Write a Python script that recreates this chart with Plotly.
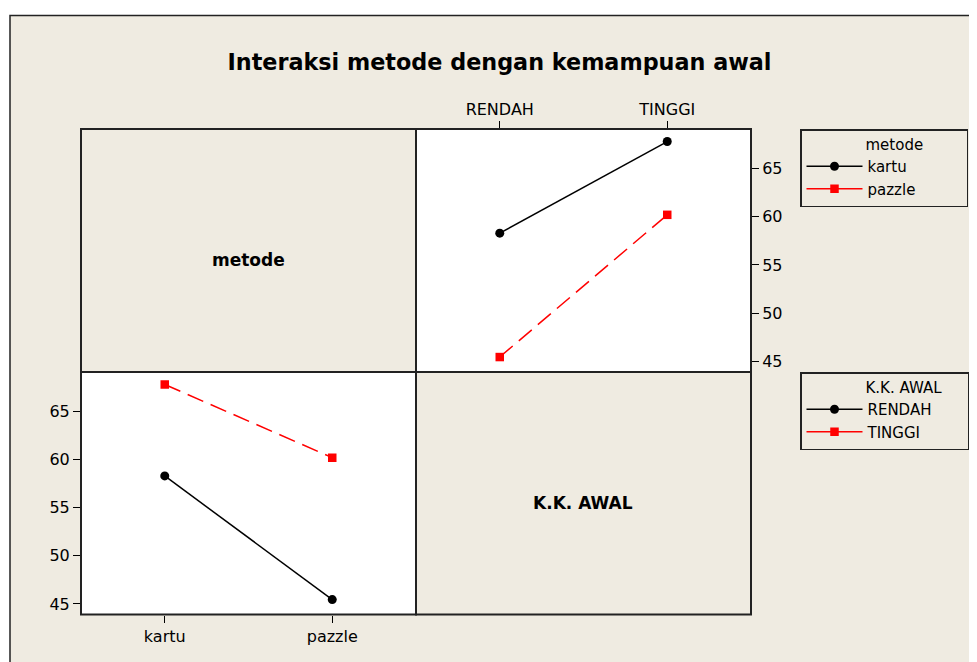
import plotly.graph_objects as go

# ---- data (cell means) ----
metode = ["kartu", "pazzle"]
kk_awal = ["RENDAH", "TINGGI"]
# means[metode][kk_awal]
kartu_vals = [58.3, 67.8]    # kartu at RENDAH, TINGGI
pazzle_vals = [45.45, 60.2]  # pazzle at RENDAH, TINGGI
y_ticks = [45, 50, 55, 60, 65]

W, H = 977, 662
OFF = 8  # page body margin offset
BEIGE = "#EFEBE1"
FONT = "DejaVu Sans"

def X(px):
    return (px - OFF) / W

def Y(py):
    return 1 - (py - OFF) / H

L, M, R = 81, 416, 751
T, C, B = 129, 372, 614.5

fig = go.Figure()

# Top-right: x = K.K. AWAL, lines by metode
fig.add_trace(go.Scatter(x=kk_awal, y=kartu_vals, xaxis="x2", yaxis="y2",
                         mode="lines+markers", showlegend=False,
                         line=dict(color="black", width=1.5),
                         marker=dict(symbol="circle", size=9, color="black")))
fig.add_trace(go.Scatter(x=kk_awal, y=pazzle_vals, xaxis="x2", yaxis="y2",
                         mode="lines+markers", showlegend=False,
                         line=dict(color="#FF0000", width=1.5, dash="17px,8px"),
                         marker=dict(symbol="square", size=8.5, color="#FF0000")))

# Bottom-left: x = metode, lines by K.K. AWAL
rendah_vals = [kartu_vals[0], pazzle_vals[0]]
tinggi_vals = [kartu_vals[1], pazzle_vals[1]]
fig.add_trace(go.Scatter(x=metode, y=rendah_vals, xaxis="x3", yaxis="y3",
                         mode="lines+markers", showlegend=False,
                         line=dict(color="black", width=1.5),
                         marker=dict(symbol="circle", size=9, color="black")))
fig.add_trace(go.Scatter(x=metode, y=tinggi_vals, xaxis="x3", yaxis="y3",
                         mode="lines+markers", showlegend=False,
                         line=dict(color="#FF0000", width=1.5, dash="17px,8px"),
                         marker=dict(symbol="square", size=8.5, color="#FF0000")))

# legend entries
for name, col, sym, sz, lg in [("kartu", "black", "circle", 9, "legend"),
                               ("pazzle", "#FF0000", "square", 8.5, "legend"),
                               ("RENDAH", "black", "circle", 9, "legend2"),
                               ("TINGGI", "#FF0000", "square", 8.5, "legend2")]:
    fig.add_trace(go.Scatter(x=[None], y=[None], xaxis="x2", yaxis="y2",
                             mode="lines+markers", name=name, legend=lg,
                             line=dict(color=col, width=1.5),
                             marker=dict(symbol=sym, size=sz, color=col)))

tickfont = dict(family=FONT, size=16, color="black")
yrange = [43.9, 69.1]

shapes = [
    # beige frame
    dict(type="rect", xref="paper", yref="paper", x0=X(10), x1=X(1000),
         y0=Y(700), y1=Y(15.5), fillcolor=BEIGE,
         line=dict(color="#222", width=1.5), layer="below"),
    # white data panels
    dict(type="rect", xref="paper", yref="paper", x0=X(M), x1=X(R), y0=Y(C), y1=Y(T),
         fillcolor="white", line=dict(width=0), layer="below"),
    dict(type="rect", xref="paper", yref="paper", x0=X(L), x1=X(M), y0=Y(B), y1=Y(C),
         fillcolor="white", line=dict(width=0), layer="below"),
]
for x0, x1, y0, y1 in [(L, M, T, C), (M, R, T, C), (L, M, C, B), (M, R, C, B)]:
    shapes.append(dict(type="rect", xref="paper", yref="paper",
                       x0=X(x0), x1=X(x1), y0=Y(y1), y1=Y(y0),
                       line=dict(color="#222", width=2), layer="above"))

annotations = [
    dict(text="<b>metode</b>", x=X(248), y=Y(260), xref="paper", yref="paper",
         xanchor="center", yanchor="middle",
         showarrow=False, font=dict(family=FONT, size=17, color="black")),
    dict(text="<b>K.K. AWAL</b>", x=X(583), y=Y(503), xref="paper", yref="paper",
         xanchor="center", yanchor="middle",
         showarrow=False, font=dict(family=FONT, size=17, color="black")),
]

legend_common = dict(bgcolor=BEIGE, bordercolor="#222", borderwidth=1.5,
                     font=dict(family=FONT, size=15, color="black"),
                     xanchor="left", yanchor="top", itemwidth=56,
                     tracegroupgap=0)

fig.update_layout(
    width=W, height=H,
    margin=dict(l=0, r=0, t=0, b=0),
    paper_bgcolor="white",
    plot_bgcolor="rgba(0,0,0,0)",
    title=dict(text="<b>Interaksi metode dengan kemampuan awal</b>",
               x=X(499.5), y=Y(62), xanchor="center", yanchor="middle",
               font=dict(family=FONT, size=22.3, color="black")),
    xaxis2=dict(domain=[X(M), X(R)], anchor="y2", side="top", type="category",
                range=[-0.5, 1.5], ticks="outside", ticklen=7, tickcolor="black",
                tickfont=tickfont, showgrid=False, zeroline=False, showline=False,
                fixedrange=True),
    yaxis2=dict(domain=[Y(C), Y(T)], anchor="x2", side="right", range=yrange,
                tickvals=y_ticks, ticks="outside", ticklen=7, tickcolor="black",
                tickfont=tickfont, showgrid=False, zeroline=False, showline=False),
    xaxis3=dict(domain=[X(L), X(M)], anchor="y3", side="bottom", type="category",
                range=[-0.5, 1.5], ticks="outside", ticklen=7, tickcolor="black",
                tickfont=tickfont, showgrid=False, zeroline=False, showline=False),
    yaxis3=dict(domain=[Y(B), Y(C)], anchor="x3", side="left", range=yrange,
                tickvals=y_ticks, ticks="outside", ticklen=7, tickcolor="black",
                tickfont=tickfont, showgrid=False, zeroline=False, showline=False),
    legend=dict(x=X(800), y=Y(129),
                title=dict(text="\u00a0" * 13 + "metode" + "\u00a0" * 8 + "\u2009",
                           font=dict(family=FONT, size=15, color="black")),
                **legend_common),
    legend2=dict(x=X(800), y=Y(372),
                 title=dict(text="\u00a0" * 13 + "K.K. AWAL" + "\u00a0" * 5,
                            font=dict(family=FONT, size=15, color="black")),
                 **legend_common),
    shapes=shapes,
    annotations=annotations,
    showlegend=True,
)

fig.write_html("out.html")
